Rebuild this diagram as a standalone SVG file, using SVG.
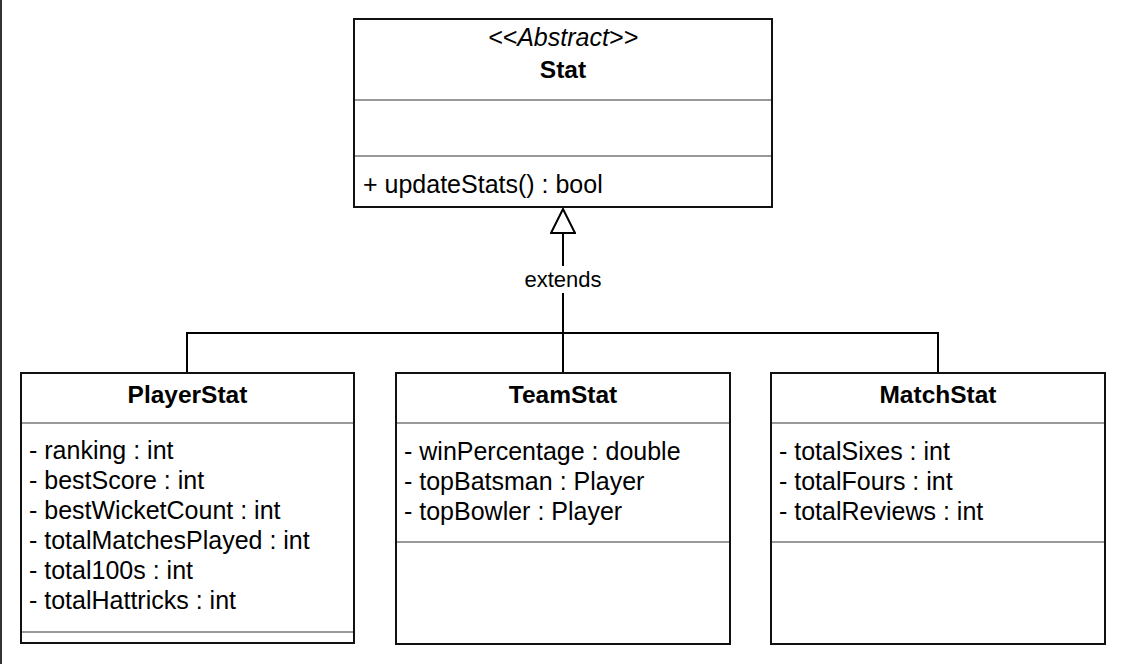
<svg xmlns="http://www.w3.org/2000/svg" width="1124" height="664" viewBox="0 0 1124 664">
  <style>
    .box { fill: #ffffff; stroke: #111111; stroke-width: 2; }
    .sep { stroke: #999999; stroke-width: 2; }
    .edge { fill: none; stroke: #000000; stroke-width: 2; }
    text { font-family: "Liberation Sans", Arial, Helvetica, sans-serif; fill: #000000; }
    .title { font-size: 24.5px; font-weight: bold; text-anchor: middle; }
    .stereo { font-size: 25px; font-style: italic; text-anchor: middle; }
    .member { font-size: 25px; }
    .label { font-size: 22px; text-anchor: middle; }
  </style>
  <defs>
    <marker id="inherit" viewBox="0 0 26 26" refX="1" refY="13" markerWidth="26" markerHeight="26" markerUnits="userSpaceOnUse" orient="auto">
      <path d="M25 13 L1 1 L1 25 Z" fill="#ffffff" stroke="#000000" stroke-width="2"/>
    </marker>
  </defs>

  <rect width="1124" height="664" fill="#ffffff"/>
  <!-- page edge -->
  <line x1="1" y1="0" x2="1" y2="664" stroke="#333333" stroke-width="2"/>

  <!-- generalisation connectors -->
  <g id="connectors">
    <polyline class="edge" points="187,373 187,333 938,333 938,373"/>
    <line class="edge" x1="563" y1="373" x2="563" y2="233" marker-end="url(#inherit)"/>
    <rect x="524" y="266" width="80" height="27" fill="#ffffff"/>
    <text class="label" x="563" y="287">extends</text>
  </g>

  <g id="stat">
    <rect class="box" x="354" y="19" width="418" height="188"/>
    <line class="sep" x1="355" y1="100" x2="771" y2="100"/>
    <line class="sep" x1="355" y1="156" x2="771" y2="156"/>
    <text class="stereo" x="563" y="46">&lt;&lt;Abstract&gt;&gt;</text>
    <text class="title" x="563" y="78">Stat</text>
    <text class="member" x="363" y="193">+ updateStats() : bool</text>
  </g>

  <g id="playerstat">
    <rect class="box" x="21" y="373" width="333" height="270"/>
    <line class="sep" x1="22" y1="423" x2="353" y2="423"/>
    <line class="sep" x1="22" y1="632" x2="353" y2="632"/>
    <text class="title" x="187.5" y="403">PlayerStat</text>
    <text class="member" x="29" y="459">- ranking : int</text>
    <text class="member" x="29" y="489">- bestScore : int</text>
    <text class="member" x="29" y="519">- bestWicketCount : int</text>
    <text class="member" x="29" y="549">- totalMatchesPlayed : int</text>
    <text class="member" x="29" y="579">- total100s : int</text>
    <text class="member" x="29" y="609">- totalHattricks : int</text>
  </g>

  <g id="teamstat">
    <rect class="box" x="396" y="373" width="334" height="271"/>
    <line class="sep" x1="397" y1="423" x2="729" y2="423"/>
    <line class="sep" x1="397" y1="542" x2="729" y2="542"/>
    <text class="title" x="563" y="403">TeamStat</text>
    <text class="member" x="404" y="460">- winPercentage : double</text>
    <text class="member" x="404" y="490">- topBatsman : Player</text>
    <text class="member" x="404" y="520">- topBowler : Player</text>
  </g>

  <g id="matchstat">
    <rect class="box" x="771" y="373" width="334" height="271"/>
    <line class="sep" x1="772" y1="423" x2="1104" y2="423"/>
    <line class="sep" x1="772" y1="542" x2="1104" y2="542"/>
    <text class="title" x="938" y="403">MatchStat</text>
    <text class="member" x="779" y="460">- totalSixes : int</text>
    <text class="member" x="779" y="490">- totalFours : int</text>
    <text class="member" x="779" y="520">- totalReviews : int</text>
  </g>
</svg>
